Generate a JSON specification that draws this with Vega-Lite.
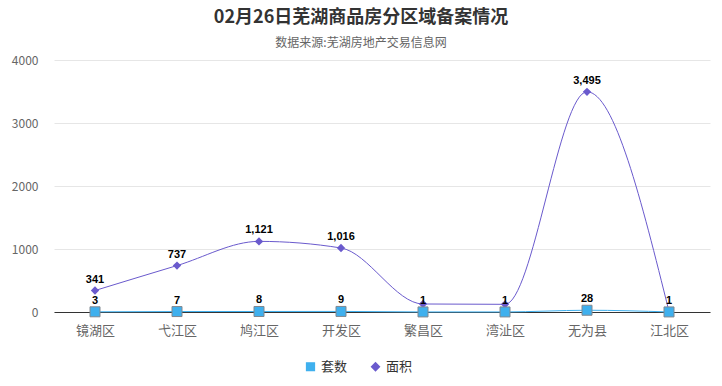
{
  "$schema": "https://vega.github.io/schema/vega-lite/v6.json",
  "width": 656,
  "height": 252,
  "autosize": {"type": "none"},
  "padding": {"left": 54, "top": 60, "right": 12, "bottom": 74},
  "background": "#ffffff",
  "title": {
    "text": "02月26日芜湖商品房分区域备案情况",
    "subtitle": "数据来源:芜湖房地产交易信息网",
    "anchor": "middle",
    "frame": "group",
    "dx": -21,
    "offset": 5,
    "font": "Noto Sans CJK SC",
    "fontSize": 18,
    "fontWeight": "bold",
    "color": "#333333",
    "subtitleFont": "Noto Sans CJK SC",
    "subtitleFontSize": 12,
    "subtitleColor": "#666666",
    "subtitlePadding": 11
  },
  "config": {
    "view": {"stroke": null},
    "font": "Noto Sans CJK SC",
    "legend": {
      "orient": "none",
      "legendX": 250,
      "legendY": 300,
      "direction": "horizontal",
      "labelFontSize": 13,
      "labelColor": "#333333",
      "symbolSize": 60,
      "columnPadding": 20,
      "title": null
    }
  },
  "data": {
    "values": [
      {"区域": "镜湖区", "系列": "套数", "值": 3},
      {"区域": "弋江区", "系列": "套数", "值": 7},
      {"区域": "鸠江区", "系列": "套数", "值": 8},
      {"区域": "开发区", "系列": "套数", "值": 9},
      {"区域": "繁昌区", "系列": "套数", "值": 1},
      {"区域": "湾沚区", "系列": "套数", "值": 1},
      {"区域": "无为县", "系列": "套数", "值": 28},
      {"区域": "江北区", "系列": "套数", "值": 1},
      {"区域": "镜湖区", "系列": "面积", "值": 341},
      {"区域": "弋江区", "系列": "面积", "值": 737},
      {"区域": "鸠江区", "系列": "面积", "值": 1121},
      {"区域": "开发区", "系列": "面积", "值": 1016},
      {"区域": "繁昌区", "系列": "面积", "值": 127},
      {"区域": "湾沚区", "系列": "面积", "值": 122},
      {"区域": "无为县", "系列": "面积", "值": 3495},
      {"区域": "江北区", "系列": "面积", "值": 8}
    ]
  },
  "encoding": {
    "x": {
      "field": "区域",
      "type": "nominal",
      "sort": null,
      "scale": {"padding": 0.5},
      "axis": {
        "title": null,
        "labelAngle": 0,
        "labelFontSize": 13,
        "labelColor": "#666666",
        "labelPadding": 12,
        "ticks": false,
        "domainColor": "#333333",
        "domainWidth": 1,
        "grid": false
      }
    },
    "y": {
      "field": "值",
      "type": "quantitative",
      "scale": {"domain": [0, 4000], "nice": false},
      "axis": {
        "title": null,
        "values": [0, 1000, 2000, 3000, 4000],
        "domain": false,
        "ticks": false,
        "labelFontSize": 12,
        "labelColor": "#666666",
        "labelPadding": 16,
        "gridColor": "#e6e6e6",
        "format": "d"
      }
    }
  },
  "layer": [
    {
      "mark": {"type": "line", "interpolate": "monotone", "strokeWidth": 1},
      "encoding": {
        "color": {
          "field": "系列",
          "type": "nominal",
          "title": null,
          "scale": {"domain": ["套数", "面积"], "range": ["#3fb0ee", "#6a5acd"]}
        }
      }
    },
    {
      "mark": {"type": "point", "filled": true, "opacity": 1, "size": 70},
      "encoding": {
        "color": {
          "field": "系列",
          "type": "nominal",
          "title": null,
          "scale": {"domain": ["套数", "面积"], "range": ["#3fb0ee", "#6a5acd"]}
        },
        "shape": {
          "field": "系列",
          "type": "nominal",
          "title": null,
          "scale": {"domain": ["套数", "面积"], "range": ["square", "diamond"]}
        }
      }
    },
    {
      "transform": [{"filter": "datum['系列'] == '套数'"}],
      "mark": {"type": "square", "filled": true, "size": 100, "fill": "#3fb0ee", "stroke": "#808890", "strokeWidth": 1, "opacity": 1}
    },
    {
      "transform": [{"filter": "datum['系列'] == '套数' || datum['值'] > 200"}],
      "mark": {
        "type": "text",
        "dy": -11,
        "fontSize": 11,
        "fontWeight": "bold",
        "color": "#000000",
        "font": "Liberation Sans"
      },
      "encoding": {
        "text": {"field": "值", "type": "quantitative", "format": ","}
      }
    }
  ]
}
